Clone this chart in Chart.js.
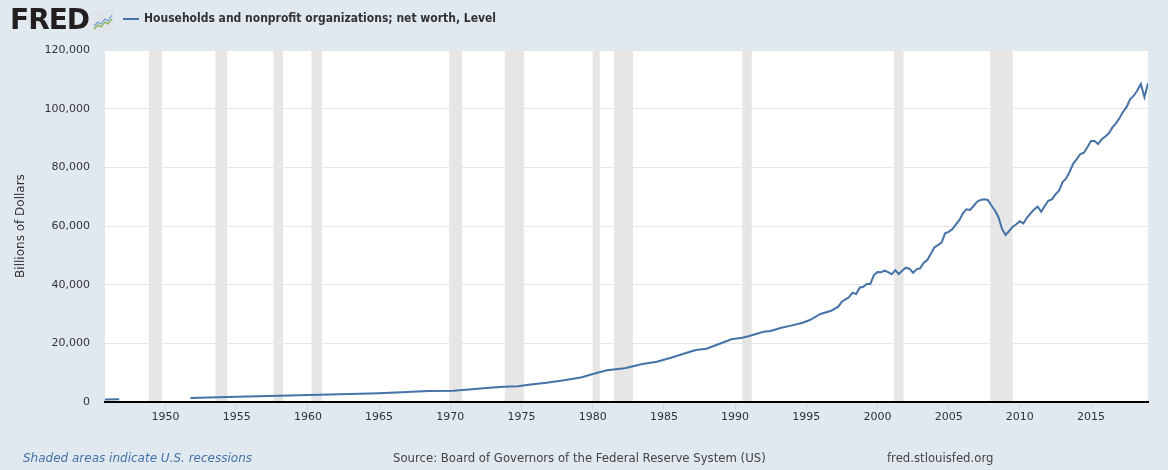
<!DOCTYPE html>
<html>
<head>
<meta charset="utf-8">
<script src="https://cdn.jsdelivr.net/npm/chart.js@4"></script>
<style>
  html, body { margin: 0; padding: 0; }
  body { width: 1168px; height: 470px; background: #e1e9f0; position: relative; overflow: hidden; font-family: "DejaVu Sans", sans-serif; }
  #wrap { position: absolute; left: 0; top: 0; width: 1168px; height: 470px; }
  .txt { position: absolute; white-space: nowrap; }
  #logo { left: 10px; top: 3px; font: bold 28px "DejaVu Sans"; letter-spacing: -1px; color: #231f20; }
  #icon { position: absolute; left: 92px; top: 10px; }
  #legLine { position: absolute; left: 123px; top: 18px; width: 16px; height: 2px; background: #4572a7; }
  #legTxt { left: 144px; top: 11px; font: bold 12px "DejaVu Sans Condensed", "DejaVu Sans"; color: #333; }
  #shaded { left: 23px; top: 451px; font: italic 12px "DejaVu Sans"; color: #4572a7; }
  #source { left: 393px; top: 450px; font: 13px "DejaVu Sans Condensed", "DejaVu Sans"; color: #444; }
  #site { left: 887px; top: 450px; font: 13px "DejaVu Sans Condensed", "DejaVu Sans"; color: #444; }
</style>
</head>
<body>
<div id="wrap"><canvas id="myChart" width="1168" height="470"></canvas></div>
<div class="txt" id="logo">FRED</div>
<svg id="icon" width="22" height="21" viewBox="0 0 22 21">
  <rect x="0" y="0" width="22" height="21" rx="2" fill="#dfe5ea"/>
  <polyline points="2,16 6,12 9,14 13,9 16,11 20,5" fill="none" stroke="#6f9fd0" stroke-width="1.2"/>
  <polyline points="2,19 6,15 9,17 13,12 16,14 20,9" fill="none" stroke="#7fae3f" stroke-width="1.2"/>
</svg>
<div id="legLine"></div>
<div class="txt" id="legTxt">Households and nonprofit organizations; net worth, Level</div>
<div class="txt" id="shaded">Shaded areas indicate U.S. recessions</div>
<div class="txt" id="source">Source: Board of Governors of the Federal Reserve System (US)</div>
<div class="txt" id="site">fred.stlouisfed.org</div>

<script>
// dados (anos decimais, inicio do trimestre)
const years = [
  1945.75, 1946.75, 1949.0, 1951.75, 1955.0, 1958.0, 1962.25, 1965.0, 1968.5, 1970.25,
  1971.5, 1972.75, 1973.75, 1974.75, 1975.5, 1976.75, 1978.0, 1979.25, 1980.0, 1981.0,
  1982.25, 1983.5, 1984.5, 1985.5, 1986.5, 1987.25, 1988.0, 1988.5, 1989.75, 1990.5,
  1991.0, 1992.0, 1992.5, 1993.25, 1994.0, 1994.75, 1995.25, 1996.0, 1996.75, 1997.25,
  1997.5, 1997.75, 1998.0, 1998.25, 1998.5, 1998.75, 1999.0, 1999.25, 1999.5, 1999.75,
  2000.0, 2000.25, 2000.5, 2000.75, 2001.0, 2001.25, 2001.5, 2001.75, 2002.0, 2002.25,
  2002.5, 2002.75, 2003.0, 2003.25, 2003.5, 2003.75, 2004.0, 2004.25, 2004.5, 2004.75,
  2005.0, 2005.25, 2005.5, 2005.75, 2006.0, 2006.25, 2006.5, 2006.75, 2007.0, 2007.25,
  2007.5, 2007.75, 2008.0, 2008.25, 2008.5, 2008.75, 2009.0, 2009.25, 2009.5, 2009.75,
  2010.0, 2010.25, 2010.5, 2010.75, 2011.0, 2011.25, 2011.5, 2011.75, 2012.0, 2012.25,
  2012.5, 2012.75, 2013.0, 2013.25, 2013.5, 2013.75, 2014.0, 2014.25, 2014.5, 2014.75,
  2015.0, 2015.25, 2015.5, 2015.75, 2016.0, 2016.25, 2016.5, 2016.75, 2017.0, 2017.25,
  2017.5, 2017.75, 2018.0, 2018.25, 2018.5, 2018.75, 2019.0
]

const netWorth = [
  860, 900, null, 1360, 1750, 2150, 2620, 2960, 3750, 3850,
  4330, 4880, 5220, 5350, 5900, 6580, 7400, 8420, 9550, 10800,
  11480, 12950, 13740, 15100, 16600, 17730, 18170, 19090, 21370, 21920,
  22500, 23960, 24200, 25330, 26130, 27040, 27950, 30000, 31120, 32490,
  34190, 35000, 35690, 37260, 36820, 38970, 39300, 40230, 40230, 43290,
  44320, 44210, 44760, 44300, 43530, 44890, 43630, 44800, 45780, 45450,
  44080, 45240, 45580, 47490, 48410, 50500, 52740, 53500, 54310, 57510,
  58000, 58870, 60500, 62000, 64330, 65690, 65450, 66820, 68280, 68900,
  69100, 68860, 67000, 65300, 63000, 59000, 56930, 58300, 59760, 60580,
  61600, 60920, 62800, 64330, 65600, 66580, 64880, 66800, 68620, 69100,
  70800, 72000, 75000, 76200, 78500, 81300, 82800, 84540, 84990, 86900,
  88980, 88980, 87950, 89600, 90500, 91600, 93600, 95000, 96800, 98970,
  100600, 103300, 104420, 106200, 108410, 103900, 108640
]

// recessoes (inicio / fim)
const recStart = [1948.83, 1953.5, 1957.58, 1960.25, 1969.92, 1973.83, 1980.0, 1981.5, 1990.5, 2001.17, 2007.92]
const recEnd   = [1949.75, 1954.33, 1958.25, 1961.0, 1970.83, 1975.17, 1980.5, 1982.83, 1991.17, 2001.83, 2009.5]

const xTicks = [1950, 1955, 1960, 1965, 1970, 1975, 1980, 1985, 1990, 1995, 2000, 2005, 2010, 2015]
const yTicks = [0, 20000, 40000, 60000, 80000, 100000, 120000]

const pontos = years.map(function (a, i) { return { x: a, y: netWorth[i] } })

// fundo branco da area do grafico
const fundo = {
  id: 'fundo',
  beforeDraw(chart) {
    const a = chart.chartArea
    chart.ctx.save()
    chart.ctx.fillStyle = '#ffffff'
    chart.ctx.fillRect(a.left, a.top, a.right - a.left, a.bottom - a.top)
    chart.ctx.restore()
  }
}

// faixas cinzas das recessoes
const recessoes = {
  id: 'recessoes',
  beforeDatasetsDraw(chart) {
    const c = chart.ctx
    const area = chart.chartArea
    const xs = chart.scales.x
    c.save()
    c.fillStyle = '#e6e6e6'
    for (let i = 0; i < recStart.length; i++) {
      const a = xs.getPixelForValue(recStart[i])
      const b = xs.getPixelForValue(recEnd[i])
      c.fillRect(a, area.top, b - a, area.bottom - area.top - 1)
    }
    c.restore()
  }
}

const ctx = document.getElementById("myChart")

const config = {
  type: 'line',
  data: {
    datasets: [{
      label: 'Households and nonprofit organizations; net worth, Level',
      data: pontos,
      borderColor: '#4572a7',
      borderWidth: 2,
      pointRadius: 0,
      tension: 0,
      spanGaps: false
    }]
  },
  options: {
    responsive: false,
    animation: false,
    devicePixelRatio: 1,
    layout: { padding: { top: 50, right: 20, bottom: 38, left: 0 } },
    plugins: { legend: { display: false }, tooltip: { enabled: false } },
    scales: {
      x: {
        type: 'linear',
        min: 1945.75,
        max: 2019.0,
        afterBuildTicks: function (s) { s.ticks = xTicks.map(function (v) { return { value: v } }) },
        afterFit: function (s) { s.height = 30 },
        grid: { drawOnChartArea: false, drawTicks: true, tickLength: 8, color: '#ccd6eb' },
        border: { display: true, color: '#000', width: 2, z: 1 },
        ticks: {
          padding: 1,
          color: '#333',
          font: { family: 'DejaVu Sans', size: 11 },
          maxRotation: 0,
          callback: function (v) { return String(v) }
        }
      },
      y: {
        min: 0,
        max: 120000,
        afterBuildTicks: function (s) { s.ticks = yTicks.map(function (v) { return { value: v } }) },
        afterFit: function (s) { s.width = 105 },
        grid: { color: '#e6e6e6', drawTicks: false },
        border: { display: false },
        title: {
          display: true,
          text: 'Billions of Dollars',
          color: '#333',
          font: { family: 'DejaVu Sans', size: 12 },
          padding: { top: 14, bottom: 0 }
        },
        ticks: {
          padding: 15,
          color: '#333',
          font: { family: 'DejaVu Sans', size: 11 },
          callback: function (v) { return v.toLocaleString('en-US') }
        }
      }
    }
  },
  plugins: [fundo, recessoes]
}

const myChart = new Chart(ctx, config)
</script>
</body>
</html>
